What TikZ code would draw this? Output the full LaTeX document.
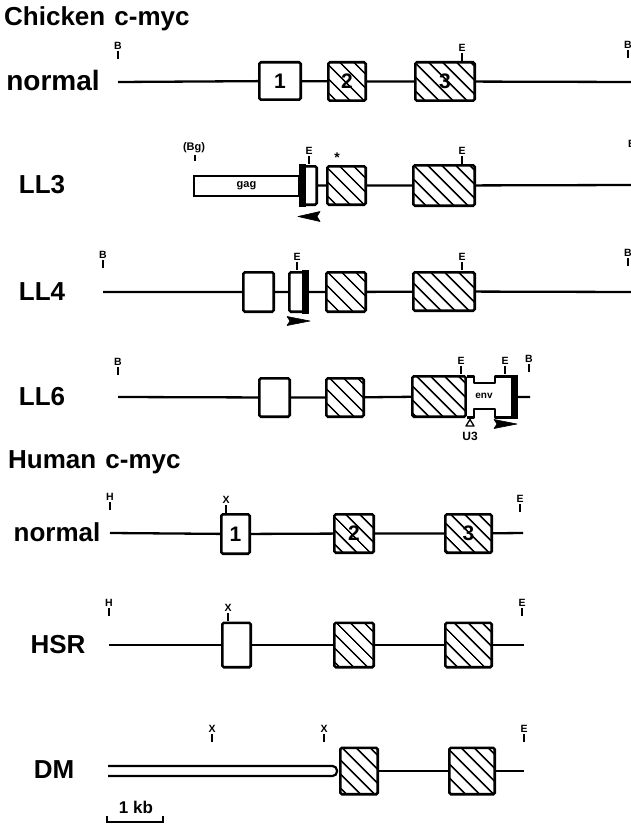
\documentclass[tikz,border=0pt]{standalone}
\usepackage{fontspec}
\setmainfont{Liberation Sans}
\usetikzlibrary{patterns.meta}

% restriction site: a short tick with its enzyme letter above
\newcommand\rsite[4]{%
  \coordinate (#1) at (#2,#3);
  \draw[tickline] (#1) -- ++(0,-8) node[sitelbl, anchor=south] (#1l) {#4};}

\begin{document}
\begin{tikzpicture}[x=1pt,y=-1pt,
  dna/.style={line width=2.3pt},
  tickline/.style={line width=1.4pt},
  sitelbl/.style={inner sep=0.8pt, font=\fontsize{10.5}{10.5}\selectfont\bfseries},
  exon/.style={draw, line width=2.6pt, rounded corners=1.5pt, fill=white,
    inner sep=0pt, font=\fontsize{21}{21}\selectfont\bfseries},
  hatch/.style={exon, postaction={pattern={Lines[angle=-45,distance=10.5pt,line width=1.8pt]}}},
  title/.style={inner sep=0pt, anchor=west, font=\fontsize{26}{26}\selectfont\bfseries},
  rowlbl/.style={inner sep=0pt, font=\fontsize{26}{26}\selectfont\bfseries},
  small/.style={inner sep=0pt, font=\fontsize{11}{11}\selectfont\bfseries},
  dart/.style={fill=black, draw=black, line width=0.6pt, line join=round}
]
\useasboundingbox (0,0) rectangle (631,832);

% ---------------- Chicken c-myc ----------------
\node[title] (tch) at (4,19) {Chicken\hspace{0.35em}c-myc};

% normal
\node[rowlbl, font=\fontsize{28}{28}\selectfont\bfseries] (lcn) at (53,80) {normal};
\coordinate (cnL) at (118,82);
\coordinate (cnR) at (634,82);
\node[exon, minimum width=41.4pt, minimum height=37.4pt] (cn1) at (280,81) {1};
\node[hatch, minimum width=37.4pt, minimum height=38.4pt] (cn2) at (347,81.5) {2};
\node[hatch, minimum width=59.4pt, minimum height=38.4pt] (cn3) at (445,81.5) {3};
\draw[dna] (cnL) -- (cn1) (cn1) -- (cn2) (cn2) -- (cn3) (cn3) -- (cnR);
\rsite{cnB1}{118}{59}{B}
\rsite{cnE1}{462}{61}{E}
\rsite{cnB2}{628}{58}{B}

% LL3
\node[rowlbl] (l3) at (42,185) {LL3};
\node[draw, line width=2pt, fill=white, minimum width=105pt, minimum height=20pt,
  inner sep=0pt, small] (gag3) at (246.5,186) {gag};
\node[exon, minimum width=15.4pt, minimum height=38.4pt] (ltr3) at (309,185.5) {};
\fill (299,164) rectangle (306,207);
\node[hatch, minimum width=38.4pt, minimum height=38.4pt] (c32) at (346.5,185.5) {};
\node[hatch, minimum width=61.4pt, minimum height=40.4pt] (c33) at (444,185.5) {};
\coordinate (c3R) at (634,185);
\draw[dna] (ltr3) -- (c32) (c32) -- (c33) (c33) -- (c3R);
\node[small, font=\fontsize{14}{14}\selectfont\bfseries] (ast3) at (337,158) {*};
\node[small] (bg3) at (194,148) {(Bg)};
\draw[tickline] (195,155) -- (195,161);
\rsite{c3E1}{309}{164}{E}
\rsite{c3E2}{462}{164}{E}
\rsite{c3B}{632}{157}{B}
\fill[dart] (298,216.5) -- (320,211.5) -- (317,216.5) -- (320,221.5) -- cycle;

% LL4
\node[rowlbl] (l4) at (42,292) {LL4};
\coordinate (c4L) at (103,292);
\coordinate (c4R) at (634,292);
\node[exon, minimum width=30.4pt, minimum height=39.4pt] (c4a) at (258.5,292) {};
\node[exon, minimum width=17.4pt, minimum height=39.4pt] (ltr4) at (298,292) {};
\fill (302,270) rectangle (309,314);
\node[hatch, minimum width=39.4pt, minimum height=39.4pt] (c42) at (346,292) {};
\node[hatch, minimum width=61.4pt, minimum height=38.4pt] (c43) at (444,291.5) {};
\draw[dna] (c4L) -- (c4a) (c4a) -- (ltr4) (ltr4) -- (c42) (c42) -- (c43) (c43) -- (c4R);
\rsite{c4B1}{103}{268}{B}
\rsite{c4E1}{297}{270}{E}
\rsite{c4E2}{462}{270}{E}
\rsite{c4B2}{628}{266}{B}
\fill[dart] (310,321) -- (287,316.5) -- (290,321) -- (287,325.5) -- cycle;

% LL6
\node[rowlbl] (l6) at (42,397) {LL6};
\coordinate (c6L) at (118,397);
\coordinate (c6R) at (530,397);
\node[exon, minimum width=30.4pt, minimum height=38.4pt] (c6a) at (274.5,397.5) {};
\node[hatch, minimum width=37.4pt, minimum height=38.4pt] (c62) at (345,397.5) {};
\node[hatch, minimum width=53.4pt, minimum height=40.4pt] (c63) at (439,396.5) {};
% env region of the inserted provirus, with its waisted outline
\draw[line width=2.6pt, fill=white, line join=round]
  (467,376.3) -- (474,376.3) -- (474,383) -- (495,383) -- (495,376.3) -- (516,376.3)
  -- (516,417.3) -- (495,417.3) -- (495,409) -- (474,409) -- (474,417.3) -- (467,417.3);
\fill (511,375) rectangle (517.5,418.6);
\node[small, font=\fontsize{10}{10}\selectfont\bfseries] (env6) at (484,396) {env};
\coordinate (c6env) at (517.5,397);
\draw[dna] (c6L) -- (c6a) (c6a) -- (c62) (c62) -- (c63) (c6env) -- (c6R);
\rsite{c6B1}{118}{375}{B}
\rsite{c6E1}{461}{374}{E}
\rsite{c6E2}{505}{374}{E}
\rsite{c6B2}{529}{372}{B}
\draw[line width=1.3pt, line join=round] (470,419.5) -- (474,426) -- (466,426) -- cycle;
\node[small, font=\fontsize{12}{12}\selectfont\bfseries] (u3) at (470,436) {U3};
\fill[dart] (517,424) -- (494,419.5) -- (497,424) -- (494,428.5) -- cycle;

% ---------------- Human c-myc ----------------
\node[title] (thu) at (8,462) {Human\hspace{0.35em}c-myc};

% normal
\node[rowlbl] (lhn) at (57,532) {normal};
\coordinate (hnL) at (110,533);
\coordinate (hnR) at (523,533);
\node[exon, minimum width=28.4pt, minimum height=39.4pt] (hn1) at (235.5,534) {1};
\node[hatch, minimum width=39.4pt, minimum height=38.4pt] (hn2) at (354,533.5) {2};
\node[hatch, minimum width=46.4pt, minimum height=38.4pt] (hn3) at (468.5,533.5) {3};
\draw[dna] (hnL) -- (hn1) (hn1) -- (hn2) (hn2) -- (hn3) (hn3) -- (hnR);
\rsite{hnH}{110}{510}{H}
\rsite{hnX}{226}{513}{X}
\rsite{hnE}{520}{512}{E}

% HSR
\node[rowlbl] (lhs) at (58,645) {HSR};
\coordinate (hsL) at (109,645);
\coordinate (hsR) at (524,645);
\node[exon, minimum width=28.4pt, minimum height=44.4pt] (hs1) at (236.5,645) {};
\node[hatch, minimum width=39.4pt, minimum height=44.4pt] (hs2) at (354,645) {};
\node[hatch, minimum width=46.4pt, minimum height=44.4pt] (hs3) at (468.5,645) {};
\draw[dna] (hsL) -- (hs1) (hs1) -- (hs2) (hs2) -- (hs3) (hs3) -- (hsR);
\rsite{hsH}{109}{616}{H}
\rsite{hsX}{228}{621}{X}
\rsite{hsE}{522}{616}{E}

% DM
\node[rowlbl] (ldm) at (54,770) {DM};
\coordinate (dmR) at (524,771);
\node[hatch, minimum width=37.4pt, minimum height=46.4pt] (dm2) at (359,771) {};
\node[hatch, minimum width=45.4pt, minimum height=46.4pt] (dm3) at (472,771) {};
% amplified flanking DNA shown as a double strand ending at exon 2
\draw[line width=2.2pt, rounded corners=4.5pt]
  (108,766) -- (337,766) -- (337,776) -- (108,776);
\draw[dna] (dm2) -- (dm3) (dm3) -- (dmR);
\rsite{dmX1}{212}{742}{X}
\rsite{dmX2}{324}{742}{X}
\rsite{dmE}{524}{742}{E}

% scale bar
\node[small, font=\fontsize{17}{17}\selectfont\bfseries] (kb) at (136,807) {1 kb};
\coordinate (sbL) at (107,822);
\coordinate (sbR) at (163,822);
\draw[line width=1.6pt] (sbL) ++(0,-6) -- (sbL) -- (sbR) -- ++(0,-6);

\end{tikzpicture}
\end{document}
